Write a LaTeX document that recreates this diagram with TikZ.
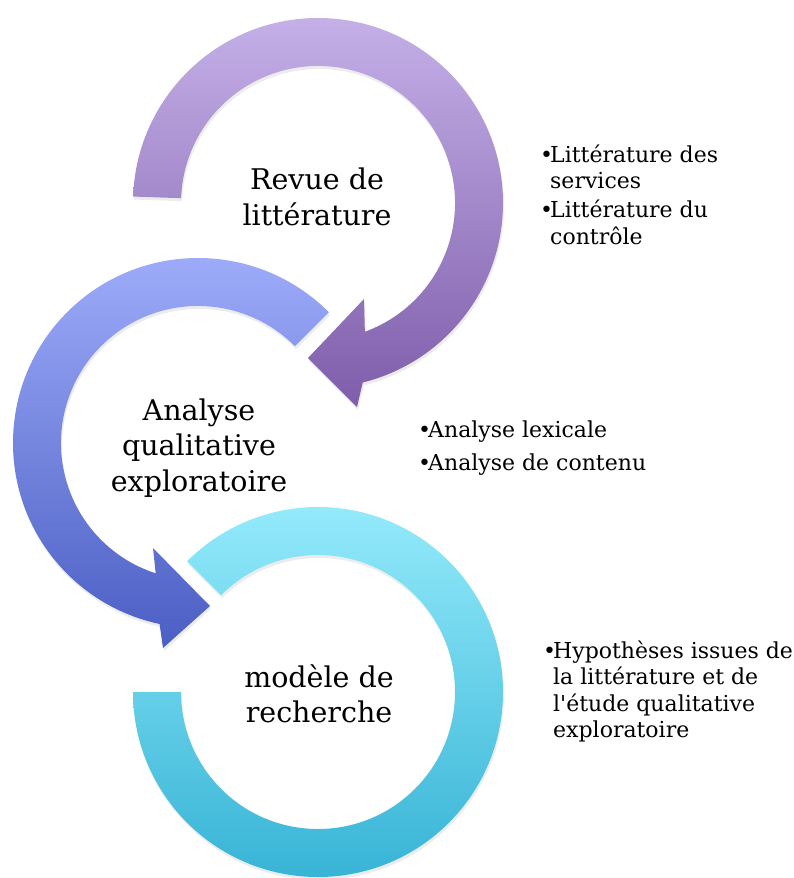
\documentclass[tikz,border=0pt]{standalone}
\usepackage{fontspec}
\setmainfont{DejaVu Serif}[Ligatures=TeXOff]
\usepackage{tikz}
\usetikzlibrary{calc,shadows}

\definecolor{revtop}{RGB}{197,176,232}
\definecolor{revbot}{RGB}{126,93,170}
\definecolor{anatop}{RGB}{160,174,251}
\definecolor{anabot}{RGB}{75,94,195}
\definecolor{modtop}{RGB}{147,234,251}
\definecolor{modbot}{RGB}{56,180,214}

\newcommand{\bul}{\makebox[10pt][l]{•}}
\newcommand{\bulgap}{\hspace*{10pt}}

\begin{document}
\begin{tikzpicture}[
    x=1pt, y=-1pt,
    ring/.style={shade, drop shadow={shadow xshift=1pt, shadow yshift=-3pt, opacity=0.15}},
    title/.style={align=center, inner sep=0pt, font=\fontsize{28.5}{35.5}\selectfont},
    bullets/.style={anchor=base west, inner sep=0pt, font=\fontsize{22}{26.5}\selectfont}
]
\useasboundingbox (0,0) rectangle (793,878);

% centres of the three rings
\coordinate (crev) at (318,203);
\coordinate (cana) at (198,443);
\coordinate (cmod) at (318,692);

% modele de recherche
\path[ring, top color=modtop, bottom color=modbot]
  ($(cmod)+(180:185)$) arc[start angle=180, end angle=-135, radius=185]
  -- ($(cmod)+(-135:137)$) arc[start angle=-135, end angle=180, radius=137] -- cycle;

% analyse qualitative
\path[ring, top color=anatop, bottom color=anabot]
  ($(cana)+(-45:185)$) arc[start angle=-45, end angle=-258, radius=185]
  -- (163,648) -- (210,606) -- (153,548)
  -- ($(cana)+(-252:137)$) arc[start angle=-252, end angle=-45, radius=137] -- cycle;

% revue de litterature
\path[ring, top color=revtop, bottom color=revbot]
  ($(crev)+(182:185)$) arc[start angle=182, end angle=436, radius=185]
  -- (357,407) -- (308,358) -- (364,299)
  -- ($(crev)+(430:137)$) arc[start angle=430, end angle=182, radius=137] -- cycle;

\node[title] (revue) at (317,197) {Revue de\\littérature};
\node[title] (analyse) at (199,448) {Analyse\\qualitative\\exploratoire};
\node[title] (modele) at (319,694) {modèle de\\recherche};

\node[bullets] (revuelist) at (540,162) {\begin{tabular}[t]{@{}l@{}}
  \bul Littérature des\\ \bulgap services\\[2.5pt]
  \bul Littérature du\\ \bulgap contrôle
\end{tabular}};
\node[bullets] (analyselist) at (418,437) {\begin{tabular}[t]{@{}l@{}}
  \bul Analyse lexicale\\[6.5pt]
  \bul Analyse de contenu
\end{tabular}};
\node[bullets] (modelelist) at (543,658) {\begin{tabular}[t]{@{}l@{}}
  \bul Hypothèses issues de\\ \bulgap la littérature et de\\
  \bulgap l'étude qualitative\\ \bulgap exploratoire
\end{tabular}};

\end{tikzpicture}
\end{document}
